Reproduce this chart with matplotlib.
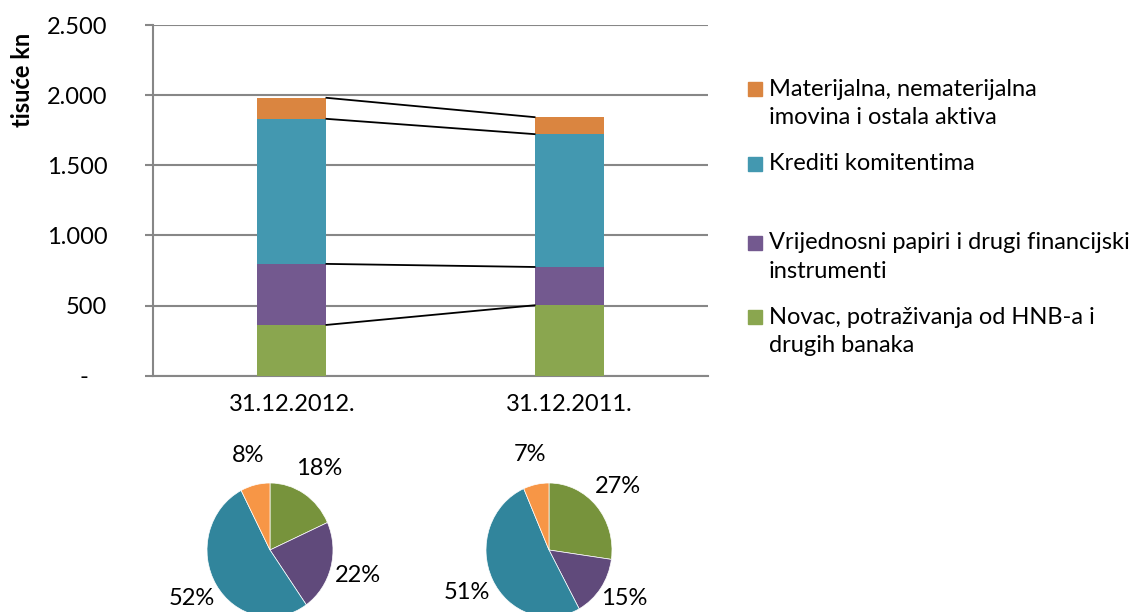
import numpy as np
import matplotlib.pyplot as plt
from matplotlib.patches import Rectangle

plt.rcParams['font.family'] = ['Lato', 'DejaVu Sans']

# data (thousand kn), stacking order bottom -> top
dates = ["31.12.2012.", "31.12.2011."]
series = ["Novac, potraživanja od HNB-a i\ndrugih banaka",
          "Vrijednosni papiri i drugi financijski\ninstrumenti",
          "Krediti komitentima",
          "Materijalna, nematerijalna\nimovina i ostala aktiva"]
novac = [362, 502]
vrijednosni = [435, 273]
krediti = [1034, 947]
materijalna = [150, 121]
yticks = [0, 500, 1000, 1500, 2000, 2500]
ytick_labels = ["-   ", "500", "1.000", "1.500", "2.000", "2.500"]

bar_colors = ["#8AA64F", "#73598F", "#4398B0", "#DA8540"]
pie_colors = ["#77933C", "#604A7B", "#31859C", "#F79646"]
grid_col = "#878787"
fs = 17

W, H = 1131, 612
fig = plt.figure(figsize=(W / 100, H / 100), dpi=100)

# ---- stacked bars
ax = fig.add_axes([153 / W, 1 - 375.7 / H, 555 / W, 350.7 / H])
stack = np.array([novac, vrijednosni, krediti, materijalna], dtype=float)
x = np.arange(len(dates))
bw = 0.25
bottom = np.zeros(len(dates))
for vals, col in zip(stack, bar_colors):
    ax.bar(x, vals, bw, bottom=bottom, color=col, zorder=3)
    bottom += vals

# connector lines between segment tops
tops = np.cumsum(stack, axis=0)
for t in tops:
    ax.plot([x[0] + bw / 2, x[1] - bw / 2], [t[0], t[1]], color="black", lw=1.3, zorder=4)

ax.set_xlim(-0.5, 1.5)
ax.set_ylim(0, 2500)
ax.set_yticks(yticks)
ax.set_yticklabels(ytick_labels)
ax.set_xticks(x)
ax.set_xticklabels(dates)
ax.yaxis.grid(True, color=grid_col, lw=1.5, zorder=0)
for s in ["top", "right"]:
    ax.spines[s].set_visible(False)
for s in ["left", "bottom"]:
    ax.spines[s].set_color(grid_col)
    ax.spines[s].set_linewidth(1.5)
ax.tick_params(axis="y", direction="out", length=6, width=1.5, color=grid_col,
               pad=27, labelsize=fs)
ax.tick_params(axis="x", length=0, pad=13, labelsize=fs)

fig.text(22 / W, 1 - 80 / H, "tisuće kn", rotation=90, ha="center", va="center",
         fontsize=fs, fontweight="bold")

# ---- legend (top series first)
legend_y = [89, 164, 243, 317]
for lab, col, y0 in zip(series[::-1], bar_colors[::-1], legend_y):
    fig.patches.append(Rectangle((748 / W, 1 - (y0 + 7) / H), 14 / W, 14 / H,
                                 transform=fig.transFigure, color=col))
    for i, line in enumerate(lab.split("\n")):
        fig.text(769 / W, 1 - (y0 + i * 29) / H, line, ha="left", va="center",
                 fontsize=fs)

# ---- pies
for cx, i in [(270, 0), (549, 1)]:
    pax = fig.add_axes([(cx - 63) / W, (H - 550 - 67) / H, 126 / W, 134 / H])
    _, _, autotexts = pax.pie(stack[:, i], colors=pie_colors, startangle=90,
                              counterclock=False, autopct=lambda p: f"{p:.0f}%",
                              pctdistance=1.45,
                              wedgeprops=dict(edgecolor="white", linewidth=0.5),
                              textprops=dict(fontsize=fs))
    # keep labels near the bottom edge inside the figure
    for t in autotexts:
        tx, ty = t.get_position()
        t.set_position((tx, max(ty, -0.72)))
    pax.set_aspect("auto")
    pax.set_xlim(-1, 1)
    pax.set_ylim(-1, 1)

fig.savefig("out.png", dpi=100)
